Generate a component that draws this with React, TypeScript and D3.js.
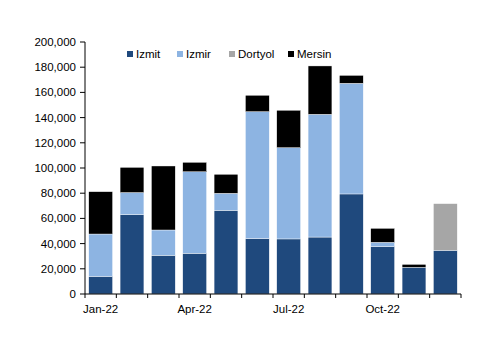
import React from 'react';
import * as d3 from 'd3';

const months = ['Jan-22', 'Feb-22', 'Mar-22', 'Apr-22', 'May-22', 'Jun-22', 'Jul-22', 'Aug-22', 'Sep-22', 'Oct-22', 'Nov-22', 'Dec-22'];
const shownLabels = ['Jan-22', 'Apr-22', 'Jul-22', 'Oct-22'];
const series = ['Izmit', 'Izmir', 'Dortyol', 'Mersin'];
const izmit = [14000, 63000, 30700, 32300, 66400, 44000, 43700, 45200, 79400, 37600, 21200, 34700];
const izmir = [33600, 17500, 20100, 64700, 13500, 100700, 72400, 97400, 87800, 3400, 0, 0];
const dortyol = [0, 0, 0, 0, 0, 0, 0, 0, 0, 0, 0, 37000];
const mersin = [33600, 20000, 50800, 7500, 15100, 13000, 29700, 38400, 6300, 11100, 2300, 0];
const colors = ['#1f497d', '#8db4e2', '#a6a6a6', '#000000'];
const yTicks = d3.range(0, 200001, 20000);

const W = 500, H = 353;
const left = 85, right = 461, top = 42, bottom = 294;
const font = 'Liberation Sans, Arial, sans-serif';

export default function App() {
  const x = d3.scaleBand<string>().domain(months).range([left, right]).paddingInner(0.24).paddingOuter(0.12);
  const y = d3.scaleLinear().domain([0, 200000]).range([bottom, top]);
  const rows = months.map((m, i) => ({ m, Izmit: izmit[i], Izmir: izmir[i], Dortyol: dortyol[i], Mersin: mersin[i] }));
  const stacked = d3.stack<any>().keys(series)(rows);
  const step = (right - left) / months.length;

  const legendX = [127, 177, 229, 288];

  return (
    <svg width={W} height={H} style={{ position: 'absolute', left: 0, top: 0, background: '#fff' }} fontFamily={font}>
      {stacked.map((s, si) => (
        <g key={series[si]} fill={colors[si]}>
          {s.map((d, i) => d[1] - d[0] > 0 ? (
            <rect key={i} x={x(months[i])} width={x.bandwidth()} y={y(d[1])} height={y(d[0]) - y(d[1])}
              stroke="#fff" strokeWidth={0.4} />
          ) : null)}
        </g>
      ))}
      <line x1={left} x2={left} y1={top} y2={bottom} stroke="#000" />
      {yTicks.map(t => (
        <g key={t}>
          <line x1={left - 5} x2={left} y1={y(t)} y2={y(t)} stroke="#000" />
          <text x={left - 9} y={y(t)} dy="0.35em" textAnchor="end" fontSize={11.5}>{d3.format(',')(t)}</text>
        </g>
      ))}
      <line x1={left} x2={right} y1={bottom} y2={bottom} stroke="#000" />
      {d3.range(months.length + 1).map(i => (
        <line key={i} x1={left + i * step} x2={left + i * step} y1={bottom} y2={bottom + 4} stroke="#000" />
      ))}
      {shownLabels.map(l => (
        <text key={l} x={(x(l) as number) + x.bandwidth() / 2} y={313} textAnchor="middle" fontSize={11.5}>{l}</text>
      ))}
      {series.map((s, i) => (
        <g key={s}>
          <rect x={legendX[i]} y={51} width={6} height={6} fill={colors[i]} />
          <text x={legendX[i] + 9} y={54} dy="0.35em" fontSize={11.5}>{s}</text>
        </g>
      ))}
    </svg>
  );
}
